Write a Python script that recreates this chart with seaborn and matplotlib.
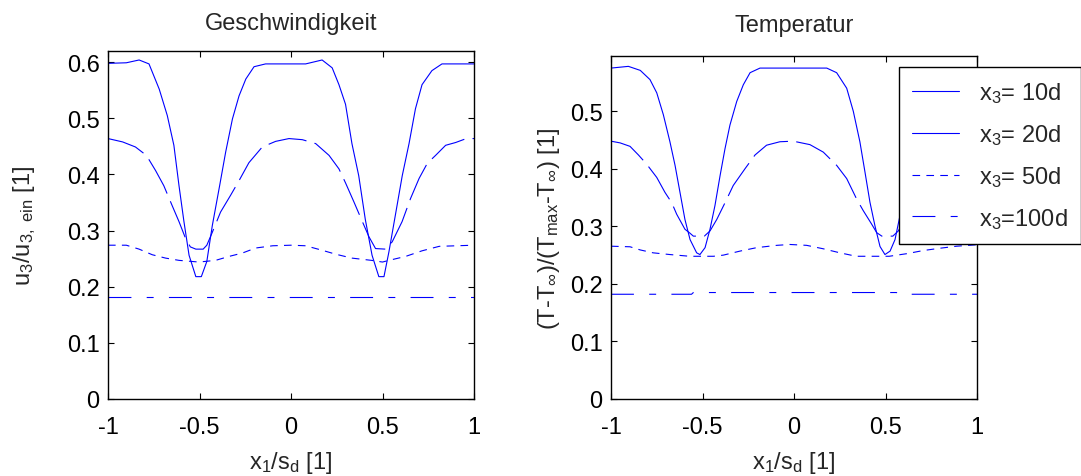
import numpy as np
import pandas as pd
import matplotlib
matplotlib.use('Agg')
import matplotlib.pyplot as plt
import seaborn as sns

# ---- data ----
series_names = ['x$_3$= 10d', 'x$_3$= 20d', 'x$_3$= 50d', 'x$_3$=100d']

# Geschwindigkeit (left)
u_x_10 = [-1, -0.9, -0.83, -0.776, -0.72, -0.676, -0.64, -0.612, -0.585, -0.557, -0.52, -0.49, -0.46,
          -0.43, -0.39, -0.357, -0.32, -0.284, -0.247, -0.202, -0.139, 0.08, 0.17, 0.225, 0.262, 0.298,
          0.333, 0.37, 0.406, 0.443, 0.48, 0.508, 0.535, 0.57, 0.608, 0.645, 0.68, 0.716, 0.77, 0.825, 1]
u_y_10 = [0.598, 0.599, 0.604, 0.597, 0.552, 0.505, 0.452, 0.380, 0.316, 0.256, 0.218, 0.218, 0.245,
          0.309, 0.380, 0.440, 0.499, 0.540, 0.570, 0.592, 0.597, 0.597, 0.604, 0.590, 0.560, 0.525,
          0.455, 0.398, 0.320, 0.256, 0.218, 0.218, 0.262, 0.327, 0.398, 0.455, 0.517, 0.560, 0.585, 0.597, 0.597]

u_x_20 = [-1, -0.92, -0.85, -0.79, -0.74, -0.695, -0.65, -0.612, -0.576, -0.55, -0.52, -0.48, -0.46,
          -0.43, -0.385, -0.33, -0.284, -0.23, -0.157, -0.084, -0.011, 0.062, 0.135, 0.208, 0.262,
          0.298, 0.344, 0.39, 0.426, 0.462, 0.517, 0.553, 0.607, 0.653, 0.7, 0.745, 0.79, 0.845, 0.9, 0.958, 1]
u_y_20 = [0.464, 0.458, 0.449, 0.434, 0.407, 0.380, 0.345, 0.316, 0.286, 0.271, 0.267, 0.267, 0.274,
          0.297, 0.333, 0.363, 0.389, 0.421, 0.449, 0.459, 0.464, 0.462, 0.455, 0.434, 0.410,
          0.385, 0.351, 0.316, 0.289, 0.268, 0.267, 0.280, 0.316, 0.357, 0.393, 0.420, 0.434, 0.452, 0.457, 0.464, 0.464]

u_x_50 = [-1, -0.9, -0.83, -0.758, -0.685, -0.612, -0.503, -0.412, -0.339, -0.266, -0.193, -0.10, 0,
          0.08, 0.17, 0.244, 0.333, 0.44, 0.50, 0.535, 0.626, 0.716, 0.81, 1]
u_y_50 = [0.274, 0.274, 0.267, 0.257, 0.251, 0.247, 0.244, 0.247, 0.254, 0.260, 0.269, 0.273, 0.274,
          0.273, 0.265, 0.258, 0.251, 0.247, 0.244, 0.247, 0.254, 0.264, 0.272, 0.274]

u_x_100 = [-1, -0.5, 0, 0.5, 1]
u_y_100 = [0.182, 0.182, 0.182, 0.182, 0.182]

# Temperatur (right)
t_x_10 = [-1, -0.905, -0.84, -0.787, -0.75, -0.714, -0.678, -0.65, -0.623, -0.596, -0.568, -0.532, -0.514,
          -0.486, -0.459, -0.432, -0.404, -0.377, -0.35, -0.313, -0.277, -0.24, -0.186, 0.179, 0.233,
          0.288, 0.324, 0.36, 0.388, 0.415, 0.443, 0.47, 0.497, 0.525, 0.552, 0.58, 0.61, 0.64, 0.68,
          0.72, 0.76, 0.81, 1]
t_y_10 = [0.575, 0.578, 0.571, 0.555, 0.532, 0.494, 0.447, 0.406, 0.359, 0.312, 0.277, 0.254, 0.251,
          0.263, 0.295, 0.336, 0.388, 0.435, 0.476, 0.517, 0.546, 0.567, 0.575, 0.575, 0.567,
          0.540, 0.500, 0.447, 0.394, 0.342, 0.300, 0.265, 0.251, 0.257, 0.277, 0.320, 0.380, 0.440, 0.500,
          0.540, 0.565, 0.575, 0.575]

t_x_20 = [-1, -0.95, -0.896, -0.85, -0.805, -0.75, -0.705, -0.668, -0.641, -0.596, -0.568, -0.55, -0.49,
          -0.459, -0.422, -0.377, -0.332, -0.268, -0.213, -0.15, -0.077, -0.004, 0.087, 0.16, 0.233,
          0.288, 0.343, 0.379, 0.424, 0.452, 0.48, 0.54, 0.57, 0.62, 0.68, 0.75, 0.82, 0.9, 1]
t_y_20 = [0.448, 0.445, 0.439, 0.424, 0.408, 0.385, 0.359, 0.341, 0.321, 0.295, 0.288, 0.283, 0.283,
          0.292, 0.312, 0.341, 0.371, 0.400, 0.424, 0.441, 0.447, 0.448, 0.442, 0.429, 0.406,
          0.383, 0.347, 0.327, 0.304, 0.289, 0.283, 0.283, 0.292, 0.320, 0.355, 0.390, 0.420, 0.440, 0.448]

t_x_50 = [-1, -0.896, -0.84, -0.77, -0.678, -0.57, -0.44, -0.386, -0.295, -0.204, -0.094, -0.022, 0.069,
          0.16, 0.251, 0.34, 0.52, 0.616, 0.707, 0.798, 0.889, 1]
t_y_50 = [0.2655, 0.2645, 0.259, 0.254, 0.251, 0.248, 0.248, 0.250, 0.257, 0.263, 0.267, 0.2685, 0.267,
          0.261, 0.254, 0.248, 0.248, 0.2525, 0.258, 0.262, 0.2655, 0.268]

t_x_100 = [-1, -0.56, -0.55, -0.5, 0.48, 0.5, 0.56, 0.57, 1]
t_y_100 = [0.182, 0.182, 0.185, 0.185, 0.185, 0.185, 0.185, 0.182, 0.182]


def to_frame(xs, ys):
    parts = []
    for name, x, y in zip(series_names, xs, ys):
        parts.append(pd.DataFrame({'x': x, 'y': y, 'series': name}))
    return pd.concat(parts, ignore_index=True)


df_u = to_frame([u_x_10, u_x_20, u_x_50, u_x_100], [u_y_10, u_y_20, u_y_50, u_y_100])
df_t = to_frame([t_x_10, t_x_20, t_x_50, t_x_100], [t_y_10, t_y_20, t_y_50, t_y_100])

sns.set_theme(style='ticks')
plt.rcParams['font.family'] = ['Liberation Sans', 'DejaVu Sans']
plt.rcParams['mathtext.fontset'] = 'custom'
plt.rcParams['mathtext.rm'] = 'Liberation Sans'
plt.rcParams['mathtext.it'] = 'Liberation Sans'
plt.rcParams['mathtext.bf'] = 'Liberation Sans:bold'
plt.rcParams['lines.scale_dashes'] = False
plt.rcParams['axes.edgecolor'] = 'black'
plt.rcParams['axes.linewidth'] = 1.0

fs = 17
dashes = {
    series_names[0]: '',
    series_names[1]: (28, 6),
    series_names[2]: (5.5, 4.5),
    series_names[3]: (16.5, 11, 5, 11),
}
blue = '#0000ff'

fig = plt.figure(figsize=(10.81, 4.77), dpi=100)
ax1 = fig.add_axes([108 / 1081, 1 - 400 / 477, 366 / 1081, 348 / 477])
ax2 = fig.add_axes([611 / 1081, 1 - 400 / 477, 366 / 1081, 343 / 477])

for ax, df in [(ax1, df_u), (ax2, df_t)]:
    sns.lineplot(data=df, x='x', y='y', style='series', dashes=dashes, color=blue,
                 linewidth=0.8, estimator=None, sort=False, ax=ax, legend=(ax is ax2))
    ax.set_xlim(-1, 1)
    ax.set_xticks([-1, -0.5, 0, 0.5, 1])
    ax.set_xticklabels(['-1', '-0.5', '0', '0.5', '1'])
    ax.tick_params(direction='in', top=True, right=True, length=4, width=0.8,
                   labelsize=fs, pad=6, colors='black')
    ax.tick_params(axis='x', pad=12)
    ax.set_xlabel('x$_1$/s$_d$ [1]', fontsize=fs, labelpad=8)

ax1.set_ylim(0, 0.62)
ax1.set_yticks([0, 0.1, 0.2, 0.3, 0.4, 0.5, 0.6])
ax1.set_yticklabels(['0', '0.1', '0.2', '0.3', '0.4', '0.5', '0.6'])
ax1.set_ylabel('u$_3$/u$_{3,\\ ein}$ [1]', fontsize=fs, labelpad=21)
ax1.set_title('Geschwindigkeit', fontsize=fs, pad=16)

ax2.set_ylim(0, 0.596)
ax2.set_yticks([0, 0.1, 0.2, 0.3, 0.4, 0.5])
ax2.set_yticklabels(['0', '0.1', '0.2', '0.3', '0.4', '0.5'])
ax2.set_ylabel('(T-T$_\\infty$)/(T$_{max}$-T$_\\infty$) [1]', fontsize=fs, labelpad=6)
ax2.set_title('Temperatur', fontsize=fs, pad=18)

handles, labels = ax2.get_legend_handles_labels()
leg = ax2.legend(handles, labels, loc='upper left', bbox_to_anchor=(899 / 1081, 1 - 68 / 477),
                 bbox_transform=fig.transFigure, fontsize=fs, frameon=True, fancybox=False,
                 edgecolor='black', framealpha=1, handlelength=2.0, handletextpad=0.85,
                 labelspacing=0.72, borderpad=0.55, borderaxespad=0)
leg.get_frame().set_linewidth(1.0)
leg.get_lines()[1].set_linestyle('-')
for ln in leg.get_lines():
    ln.set_color(blue)

fig.savefig('out.png', dpi=100)
